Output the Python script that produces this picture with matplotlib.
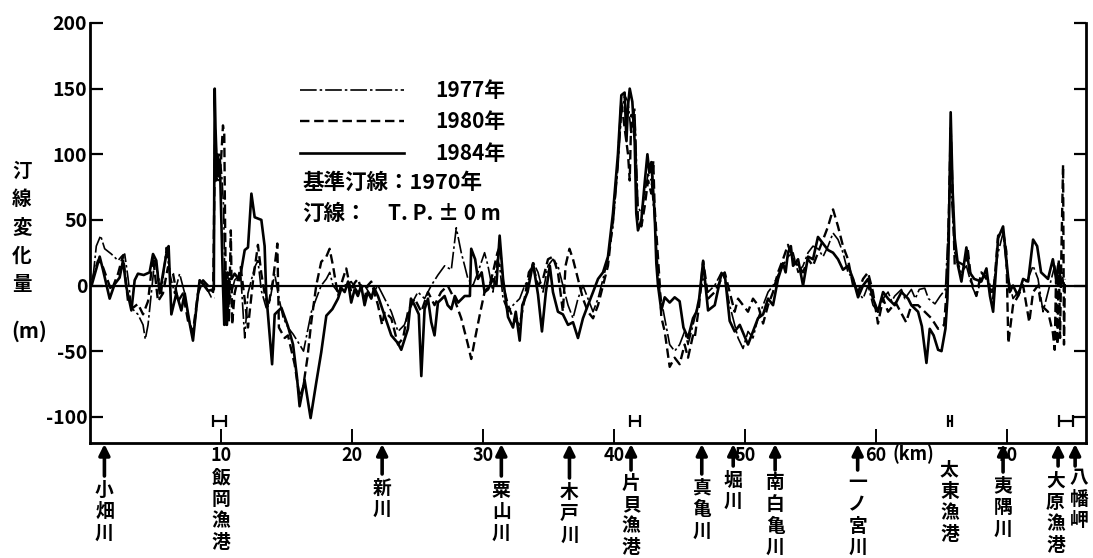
import numpy as np
import matplotlib
matplotlib.use("Agg")
import matplotlib.pyplot as plt
from matplotlib.transforms import blended_transform_factory
from matplotlib.lines import Line2D

plt.rcParams['font.family'] = ['Noto Sans CJK JP', 'DejaVu Sans']

nan = np.nan

# ---------------- data (km along coast, shoreline change in m) ----------------
pts_1984 = [(0.15,1),(0.74,22),(0.99,12),(1.50,-10),(1.88,1),(2.26,6),(2.52,19),(2.77,-1),(3.16,-19),(3.41,4),(3.66,9),(4.1,8),(4.55,10),(4.81,24),(5.06,19),(5.32,-6),(5.57,9),(5.83,24),(6.0,30),(6.21,-22),(6.59,-6),(6.97,-19),(7.23,-6),(7.61,-29),(7.86,-42),(8.12,-17),(8.37,4),(8.63,1),(9.01,-4),(9.45,-3),
    (9.52,150),(9.58,120),(9.65,100),(9.75,85),(9.85,95),(9.95,80),(10.05,40),(10.15,0),(10.25,-30),(10.35,10),(10.45,-30),(10.6,5),(10.8,5),
    (11.04,9),(11.42,4),(11.81,27),(12.06,29),(12.32,70),(12.57,52),(13.08,50),(13.33,30),(13.45,-6),(13.65,-30),(13.9,-60),(14.1,-22),(14.61,-17),(15.11,-31),
    (15.5,-45),(15.8,-70),(16.0,-92),(16.38,-72),(16.84,-101),(17.27,-74),(17.65,-51),(18.04,-23),(18.5,-18),(18.93,-10),(19.2,-2),(19.44,-5),(19.7,3),(19.94,-13),(20.2,-3),(20.45,-8),(20.7,0),(20.96,-15),(21.2,-5),(21.47,-10),(21.7,-2),(21.98,-8),(22.49,-23),(23.0,-38),(23.51,-44),(23.76,-49),(24.27,-33),(24.5,-10),(24.78,-15),(25.1,-22),(25.29,-69),(25.54,-18),(25.8,-10),(26.05,-28),(26.3,-38),(26.56,-13),(27.07,-8),(27.3,-15),(27.58,-18),(27.85,-8),(28.1,-13),(28.6,-8),(29.0,-8),(29.1,28),(29.4,20),(29.61,5),(29.9,10),(30.12,-5),(30.38,-3),(30.76,5),
    (31.02,0),(31.27,38),(31.53,5),(31.91,-24),(32.29,-32),(32.5,-20),(32.8,-42),(33.0,-15),(33.4,-5),(33.82,17),(34.2,-7),(34.5,-35),(34.8,-5),(35.1,15),(35.34,-5),(35.72,-20),(36.1,-22),(36.49,-30),(36.87,-28),(37.25,-40),(37.63,-25),(38.01,-15),(38.4,-5),(38.78,5),(39.16,10),(39.54,22),(39.92,55),(40.3,100),(40.56,145),(40.81,147),(40.95,110),(41.07,137),(41.2,150),(41.4,140),(41.58,109),(41.7,55),(41.83,42),(42.09,50),(42.34,78),(42.55,100),(42.7,86),(42.85,94),(43.1,55),(43.23,17),(43.36,0),(43.61,-19),(43.87,-9),(44.25,-13),(44.63,-9),(45.01,-12),(45.3,-32),(45.65,-40),(46.03,-25),
    (46.3,-20),(46.5,-10),(46.8,18),(47.18,-19),(47.69,-15),(48.2,9),(48.45,9),(48.83,-27),(49.21,-35),(49.6,-30),(50.23,-45),(50.61,-35),(50.99,-25),(51.38,-22),(51.76,-10),(52.14,-15),(52.52,5),(52.9,17),(53.1,10),(53.28,25),(53.5,30),(53.67,15),(54.05,20),(54.43,0),(54.81,22),(55.19,20),(55.57,37),(55.96,32),(56.34,27),(56.72,25),(57.1,20),(57.48,12),(57.86,15),(58.25,5),(58.63,-9),(59.01,0),(59.39,5),(59.77,-10),(60.15,-20),(60.54,-5),
    (60.92,-10),(61.43,-15),(61.94,-5),(62.45,-10),(62.7,-15),(63.21,-20),(63.5,-31),(63.85,-59),(64.1,-33),(64.4,-38),(64.74,-49),(65.0,-50),(65.3,-33),(65.45,-10),(65.55,33),(65.7,132),(65.85,72),(66.01,36),(66.26,15),(66.52,3),(66.9,29),(67.15,10),(67.5,5),(68.04,3),(68.43,13),(68.7,-8),(68.94,-20),(69.32,36),(69.7,45),(69.95,20),(70.2,-5),(70.46,0),(70.84,-8),(71.23,5),(71.61,3),(71.99,35),(72.3,30),(72.6,10),(73.13,5),(73.5,20),(73.75,5),(73.9,15),(74.1,5),(74.4,0)]

pts_1980 = [(0.15,4),(0.61,19),(0.99,14),(1.63,-4),(2.14,9),(2.52,23),(2.90,-12),(3.28,-17),(3.66,-14),(4.05,-22),(4.43,-12),(4.81,22),(5.19,-12),(5.57,-6),(5.95,14),(6.34,9),(6.72,-12),(7.10,-6),(7.48,-27),(7.86,-35),(8.24,-6),(8.63,4),(9.0,0),(9.4,-5),
    (9.55,118),(9.65,80),(9.75,100),(9.85,82),(10.0,95),(10.15,122),(10.25,115),(10.32,40),(10.4,-30),(10.5,10),(10.6,-28),(10.75,42),(10.85,-30),(11.04,-6),
    (11.5,14),(11.8,-10),(12.06,-32),(12.45,4),(12.82,31),(13.08,9),(13.33,-6),(13.59,-17),(13.97,4),(14.3,32),(14.42,-32),(14.86,-40),(15.11,-38),
    (15.62,-60),(16.0,-85),(16.26,-78),(16.6,-55),(16.89,-28),(17.27,0),(17.65,18),(18.04,22),(18.29,28),(18.55,15),(18.93,-8),(19.3,5),(19.56,13),(19.94,-5),(20.2,2),(20.45,5),(20.96,-10),(21.2,0),(21.47,3),(21.98,-15),(22.3,-30),(22.49,-20),(23.0,-25),(23.51,-45),(23.9,-40),(24.27,-20),(24.78,-10),(25.29,-20),(25.8,-5),(26.3,-15),(26.8,-5),(27.3,0),(27.8,-10),(28.34,-25),(28.85,-45),(29.1,-56),(29.4,-40),(29.8,-20),(30.12,-5),(30.5,0),
    (30.76,10),(31.1,25),(31.3,30),(31.53,0),(31.91,-15),(32.29,-25),(32.8,-30),(33.18,-10),(33.5,10),(33.82,15),(34.2,0),(34.58,5),(34.96,20),(35.34,22),(35.72,10),(36.1,-20),(36.3,15),(36.6,28),(36.87,20),(37.25,5),(37.63,-10),(38.01,-20),(38.4,-25),(38.78,-15),(39.16,0),(39.54,15),(39.92,50),(40.3,95),(40.56,140),(40.81,120),(41.07,100),(41.2,80),(41.32,130),(41.58,125),(41.7,85),(41.83,50),(42.09,45),(42.34,60),(42.6,80),(42.85,70),(43.0,95),(43.1,60),(43.3,30),(43.5,0),(43.61,-24),(43.87,-35),(44.25,-62),(44.63,-55),(45.01,-60),(45.39,-45),(45.65,-55),(46.03,-38),
    (46.16,-40),(46.5,-15),(46.8,19),(47.0,5),(47.18,-10),(47.69,-5),(48.2,5),(48.45,10),(48.83,-5),(49.21,-20),(49.47,-10),(49.85,-15),(50.23,-20),(50.61,-10),(50.99,-15),(51.38,-29),(51.76,-15),(52.14,-5),(52.52,10),(52.9,20),(53.28,31),(53.67,20),(54.05,15),(54.43,10),(54.81,20),(55.19,15),(55.57,25),(55.96,35),(56.34,45),(56.72,58),(57.1,45),(57.48,30),(57.86,20),(58.25,0),(58.63,-5),(59.01,5),(59.39,10),(59.77,-5),(60.15,-29),(60.54,-10),
    (60.92,-20),(61.5,-13),(62.3,-28),(62.7,-15),(63.21,-15),(63.72,-20),(64.23,-25),(64.74,-33),(65.2,-30),(65.45,5),(65.7,120),(65.88,60),(66.01,15),(66.26,18),(66.8,15),(67.0,28),(67.28,3),(67.66,-8),(68.04,10),(68.43,5),(68.94,-10),(69.32,38),(69.7,41),(69.95,26),(70.1,-44),(70.46,-15),(70.84,-8),(71.23,0),(71.7,-28),(71.99,-5),(72.37,0),(72.6,-15),(73.13,-20),(73.5,-36),(73.64,-49),(73.75,10),(73.85,-45),(73.95,20),(74.05,-40),(74.15,25),(74.28,92),(74.35,-45),(74.42,5)]

pts_1977 = [(0.23,6),(0.48,30),(0.81,38),(1.12,28),(1.63,24),(2.14,19),(2.39,22),(2.65,24),(2.90,6),(3.16,-17),(3.66,-22),(4.05,-30),(4.22,-41),(4.43,-30),(4.68,-6),(4.94,19),(5.19,9),(5.45,-6),(5.83,29),(6.08,9),(6.46,-6),(6.84,9),(7.23,-6),(7.48,-22),(7.86,-40),(8.12,-19),(8.37,4),(8.75,1),(9.26,-9),(9.52,-9.5),(nan,nan),
    (9.6,115),(9.7,85),(9.8,80),(9.9,100),(10.05,85),(10.2,60),(10.3,0),(10.4,-25),(10.55,5),(10.7,-10),
    (11.04,4),(11.5,9),(11.81,-40),(12.06,-6),(12.57,14),(12.82,19),(13.08,-4),(13.45,-17),(13.72,-12),(14.1,9),(14.35,-6),(14.73,-24),(15.11,-32),(15.5,-37),
    (16.0,-45),(16.3,-50),(16.6,-35),(16.9,-20),(17.27,-10),(17.65,0),(18.04,5),(18.3,10),(18.55,0),(18.93,-5),(19.44,0),(19.94,3),(20.45,-5),(20.96,0),(21.47,-8),(21.98,0),(22.49,-10),(23.0,-20),(23.51,-35),(24.0,-30),(24.5,-15),(25.03,-5),(25.54,-10),(26.05,0),(26.56,8),(27.07,15),(27.58,12),(27.96,44),(28.34,25),(28.6,15),(28.85,5),(29.23,0),(29.61,10),(30.12,25),(30.38,15),
    (30.76,-5),(31.1,20),(31.27,15),(31.53,-10),(31.91,-20),(32.29,-15),(32.8,-10),(33.18,0),(33.5,5),(33.82,18),(34.2,10),(34.58,-5),(34.96,15),(35.34,20),(35.72,15),(36.1,0),(36.49,-15),(36.87,-25),(37.25,-10),(37.63,0),(38.01,-10),(38.4,-20),(38.78,-10),(39.16,5),(39.54,20),(39.92,45),(40.3,90),(40.56,130),(40.81,145),(41.07,140),(41.32,115),(41.58,135),(41.7,100),(41.83,60),(42.09,55),(42.34,70),(42.6,85),(42.85,80),(43.1,50),(43.3,20),(43.5,-5),(43.87,-25),(44.25,-45),(44.63,-50),(45.01,-45),(45.39,-35),(45.65,-45),(46.03,-30),
    (46.16,-25),(46.5,-10),(46.8,5),(47.18,-5),(47.69,0),(48.2,10),(48.45,5),(48.83,-15),(49.21,-30),(49.47,-40),(49.85,-48),(50.23,-35),(50.61,-40),(50.99,-25),(51.38,-15),(51.76,-5),(52.14,0),(52.52,8),(52.9,15),(53.28,22),(53.67,25),(54.05,10),(54.43,15),(54.81,25),(55.19,30),(55.57,28),(55.96,22),(56.34,30),(56.72,40),(57.1,35),(57.48,25),(57.86,10),(58.25,5),(58.63,-5),(59.01,-10),(59.39,0),(59.77,-15),(60.15,-20),(60.54,-10),
    (60.92,-5),(61.2,-12),(61.43,-8),(61.94,-3),(62.2,-10),(62.7,-3),(63.0,-10),(63.3,-3),(63.72,-2),(64.0,-10),(64.5,-14),(64.9,-8),(65.3,-3),(65.5,40),(65.63,80),(65.75,70),(66.01,25),(66.5,10),(66.9,15),(67.3,0),(67.66,-8),(68.04,5),(68.43,8),(68.9,-5),(69.32,25),(69.7,40),(70.0,10),(70.46,-10),(70.84,-5),(71.23,0),(71.6,5),(71.99,15),(72.37,5),(72.75,-20),(73.13,-5),(73.39,5),(73.64,15),(73.9,0),(74.2,10),(74.4,-5)]

series_labels = ["1977年", "1980年", "1984年"]

# harbour extent markers (centre km, half width km) drawn at about -103 m
harbour_center = [9.9, 41.6, 65.65, 74.5]
harbour_half = [0.5, 0.4, 0.12, 0.5]
harbour_level = -103

# landmarks along the coast
landmark_names = ["小畑川", "飯岡漁港", "新川", "粟山川", "木戸川", "片貝漁港", "真亀川",
                  "堀川", "南白亀川", "一ノ宮川", "太東漁港", "夷隅川", "大原漁港", "八幡岬"]
landmark_km = [1.1, 10.0, 22.3, 31.4, 36.6, 41.3, 46.7, 49.1, 52.3, 58.6, 65.6, 69.7, 73.9, 75.2]
landmark_arrow = [True, False, True, True, True, True, True, True, True, True, False, True, True, True]

xtick_vals = [10, 20, 30, 40, 50, 60, 70]
xtick_labels = ["10", "20", "30", "40", "50", "60", "70"]
ytick_vals = [-100, -50, 0, 50, 100, 150, 200]
ytick_labels = ["-100", "-50", "0", "50", "100", "150", "200"]

# ---------------- layout ----------------
W, H = 1093, 558
fig = plt.figure(figsize=(W / 100, H / 100), dpi=100)
ax = fig.add_axes([90 / W, 1 - 443 / H, (1086 - 90) / W, (443 - 23) / H])
ax.set_xlim(0, 76.03)
ax.set_ylim(-120, 200)

def fy(py):
    return 1 - py / H

styles = {
    "1977年": dict(color="black", lw=1.2, linestyle=(0, (10, 1.8, 1.5, 1.8))),
    "1980年": dict(color="black", lw=1.7, linestyle=(0, (4, 2))),
    "1984年": dict(color="black", lw=1.9, linestyle="-"),
}

for lab, pts in zip(series_labels, [pts_1977, pts_1980, pts_1984]):
    arr = np.array(pts, dtype=float)
    ax.plot(arr[:, 0], arr[:, 1], **styles[lab])

ax.axhline(0, color="black", lw=1.6)

ax.errorbar(harbour_center, [harbour_level] * len(harbour_center), xerr=harbour_half,
            fmt="none", ecolor="black", elinewidth=1.6, capsize=4, capthick=1.6)

# spines and ticks
ax.spines["top"].set_visible(False)
for s in ["left", "right", "bottom"]:
    ax.spines[s].set_linewidth(2.0)
ax.set_yticks(ytick_vals)
ax.set_yticklabels(ytick_labels)
ax.set_xticks(xtick_vals)
ax.set_xticklabels(xtick_labels)
ax.tick_params(axis="y", direction="in", length=9, width=1.6, left=True, right=True,
               labelsize=14, pad=2)
ax.tick_params(axis="x", direction="in", length=10, width=1.4, bottom=True, top=False,
               labelsize=13, pad=2)
for t in ax.get_yticklabels() + ax.get_xticklabels():
    t.set_fontweight("bold")

trans = blended_transform_factory(ax.transData, fig.transFigure)
fig.text(893 / W, fy(454), "(km)", ha="left", va="center", fontsize=13, fontweight="bold")

# y label (vertical stacked)
ylabel = "汀線変化量"
for i, ch in enumerate(ylabel):
    fig.text(22 / W, fy(171 + i * 28.5), ch, ha="center", va="center", fontsize=14, fontweight="bold")
fig.text(29 / W, fy(331), "(m)", ha="center", va="center", fontsize=15, fontweight="bold")

# legend
handles = [Line2D([0], [0], **styles[l]) for l in series_labels]
leg = fig.legend(handles, series_labels, loc="upper left", bbox_to_anchor=(300 / W, fy(80)),
                 bbox_transform=fig.transFigure, frameon=False, handlelength=5.0,
                 handletextpad=1.5, labelspacing=0.5, borderpad=0, borderaxespad=0,
                 prop={"size": 15, "weight": "bold"})
fig.text(302 / W, fy(182), "基準汀線：1970年", ha="left", va="center", fontsize=15.5, fontweight="bold")
fig.text(302 / W, fy(213), "汀線：", ha="left", va="center", fontsize=15.5, fontweight="bold")
fig.text(501 / W, fy(213), "T. P. ± 0 m", ha="right", va="center", fontsize=15, fontweight="bold")

# landmarks with arrows (layout only: label x offset in km, arrow tail and first-character y in px)
text_dx = [0, 0, 0, 0, 0, 0, 0, 0, 0, 0, 0, 0, -0.2, 0.3]
arrow_tail = [476, None, 474, 476, 478, 470, 474, 466, 470, 470, None, 472, 466, 466]
text_start = [490, 478, 488, 490, 492, 483, 488, 480, 483, 483, 470, 486, 481, 478]
for name, km, has_arrow, dx, tail, y0 in zip(landmark_names, landmark_km, landmark_arrow,
                                             text_dx, arrow_tail, text_start):
    if has_arrow:
        ax.annotate("", xy=(km, fy(444)), xytext=(km, fy(tail)), xycoords=trans, textcoords=trans,
                    arrowprops=dict(arrowstyle="-|>", lw=2.6, color="black", mutation_scale=16,
                                    shrinkA=0, shrinkB=0), annotation_clip=False)
    for i, ch in enumerate(name):
        ax.text(km + dx, fy(y0 + i * 21.5), ch, transform=trans, ha="center", va="center",
                fontsize=13.5, fontweight="bold", clip_on=False)

fig.savefig("out.png", dpi=100)
